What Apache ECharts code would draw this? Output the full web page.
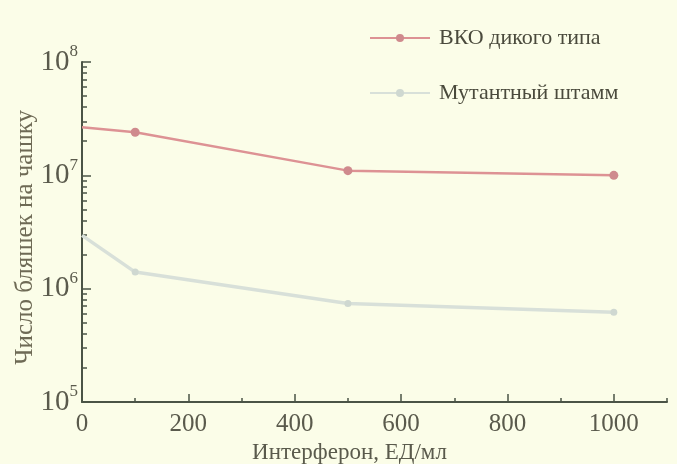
<!DOCTYPE html>
<html>
<head>
<meta charset="utf-8">
<script src="https://cdn.jsdelivr.net/npm/echarts@6/dist/echarts.min.js"></script>
<style>
  html, body { margin: 0; padding: 0; background: #fbfde8; }
  #chart { width: 677px; height: 464px; }
</style>
</head>
<body>
<div id="chart"></div>
<script>
// Interferon dose, U/ml
const doses = [0, 100, 500, 1000];
// Plaques per dish
const wildType = [2.65e7, 2.4e7, 1.1e7, 1.0e7];
const mutant = [2.95e6, 1.4e6, 7.4e5, 6.2e5];
const seriesNames = ['ВКО дикого типа', 'Мутантный штамм'];

const serif = '"Liberation Serif", "DejaVu Serif", serif';
const axisColor = '#4b5446';
const textColor = '#5a5a4c';

// minor log ticks (2..9 within each decade), expressed as log10 positions
const minorLog = [];
for (let d = 5; d < 8; d++) {
  for (let k = 2; k <= 9; k++) minorLog.push(d + Math.log10(k));
}

// first point of each curve sits on the axis and carries no marker
function toPoints(values) {
  return doses.map((d, i) => i === 0 ? { value: [d, values[i]], symbolSize: 0 } : [d, values[i]]);
}

const chart = echarts.init(document.getElementById('chart'));
chart.setOption({
  backgroundColor: '#fbfde8',
  animation: false,
  grid: { left: 82, right: 10, top: 62, bottom: 62, containLabel: false, outerBoundsMode: 'none' },
  legend: {
    orient: 'vertical',
    left: 364,
    top: 22,
    itemGap: 33,
    itemWidth: 60,
    itemHeight: 10,
    textStyle: { fontFamily: serif, fontSize: 22, color: '#4a4a3c', padding: [0, 0, 0, 4] },
    data: seriesNames
  },
  xAxis: [
    {
      type: 'value', min: 0, max: 1100, interval: 200,
      name: 'Интерферон, ЕД/мл',
      nameLocation: 'middle',
      nameGap: 38,
      nameTextStyle: { fontFamily: serif, fontSize: 23, color: textColor, padding: [0, 50, 0, 0] },
      axisLine: { lineStyle: { color: axisColor, width: 2 } },
      axisTick: { inside: true, length: 8, lineStyle: { color: axisColor, width: 1.5 } },
      axisLabel: {
        fontFamily: serif, fontSize: 25, color: textColor, margin: 10, showMaxLabel: false,
        formatter: v => String(v)
      },
      splitLine: { show: false }
    },
    {
      type: 'value', min: 0, max: 1100, interval: 100, position: 'bottom',
      axisLine: { show: false },
      axisTick: { inside: true, length: 4, lineStyle: { color: axisColor, width: 1.5 } },
      axisLabel: { show: false },
      splitLine: { show: false }
    }
  ],
  yAxis: [
    {
      type: 'log', logBase: 10, min: 1e5, max: 1e8,
      axisLine: { show: true, lineStyle: { color: axisColor, width: 2 } },
      axisTick: { show: true, inside: true, length: 9, lineStyle: { color: axisColor, width: 1.5 } },
      axisLabel: {
        margin: 4,
        formatter: function (v) {
          return '{b|10}{s|' + Math.round(Math.log10(v)) + '}';
        },
        rich: {
          b: { fontFamily: serif, fontSize: 29, color: textColor },
          s: { fontFamily: serif, fontSize: 17, color: textColor, padding: [0, 0, 20, 0] }
        }
      },
      splitLine: { show: false }
    },
    {
      type: 'value', min: 5, max: 8, position: 'left',
      axisLine: { show: false },
      axisTick: { show: true, inside: true, length: 5, customValues: minorLog,
                  lineStyle: { color: axisColor, width: 1.5 } },
      axisLabel: { show: false },
      splitLine: { show: false }
    }
  ],
  graphic: [
    {
      type: 'text',
      left: 13,
      top: 110,
      rotation: Math.PI / 2,
      style: {
        text: 'Число бляшек на чашку',
        font: '25px ' + serif,
        fill: '#6e6a55'
      }
    }
  ],
  series: [
    {
      name: seriesNames[0],
      type: 'line',
      xAxisIndex: 0, yAxisIndex: 0,
      data: toPoints(wildType),
      symbol: 'circle',
      symbolSize: 9,
      lineStyle: { color: '#dd9294', width: 2.5 },
      itemStyle: { color: '#cf8a8d' }
    },
    {
      name: seriesNames[1],
      type: 'line',
      xAxisIndex: 0, yAxisIndex: 0,
      data: toPoints(mutant),
      symbol: 'circle',
      symbolSize: 7,
      lineStyle: { color: '#d8e0d9', width: 3.5 },
      itemStyle: { color: '#cfd8d1' }
    }
  ]
});
</script>
</body>
</html>
